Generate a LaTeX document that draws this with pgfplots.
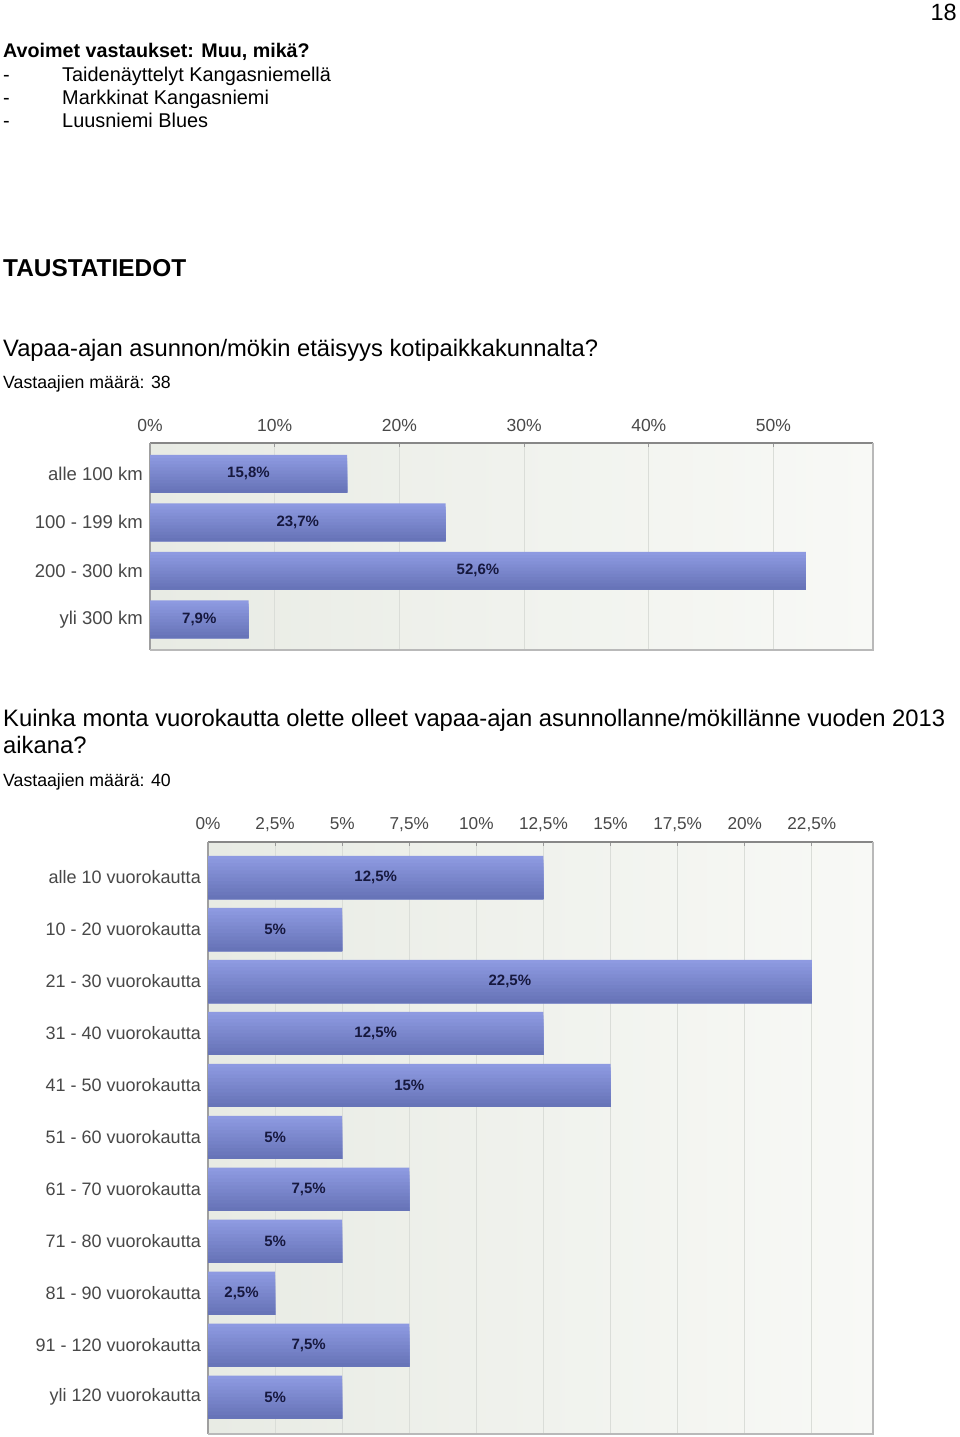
\documentclass[border=0pt]{standalone}
\usepackage{fontspec}
\setmainfont{Liberation Sans}
\usepackage{pgfplots}
\usepackage{pgfplotstable}
\pgfplotsset{compat=1.18}

\definecolor{barhi}{RGB}{142,154,225}
\definecolor{barlo}{RGB}{103,116,184}
\definecolor{bgl}{RGB}{232,235,228}
\definecolor{bgr}{RGB}{248,249,246}
\definecolor{gridc}{RGB}{218,221,216}
\definecolor{lblc}{RGB}{72,72,72}
\definecolor{valc}{RGB}{22,24,62}
\definecolor{topc}{RGB}{135,135,135}
\definecolor{framec}{RGB}{185,185,185}

\newcommand{\fs}[1]{\fontsize{#1pt}{#1pt}\selectfont}

% etaisyys kotipaikkakunnalta, n=38
\pgfplotstableread{
y v
0 15.8
1 23.7
2 52.6
3 7.9
}\etaisyys

% vuorokaudet 2013, n=40
\pgfplotstableread{
y v
0 12.5
1 5
2 22.5
3 12.5
4 15
5 5
6 7.5
7 5
8 2.5
9 7.5
10 5
}\vuorokaudet

\pgfplotsset{
  kysely/.style={
    scale only axis, anchor=north west,
    xmin=0, y dir=reverse,
    axis x line*=top, axis y line*=left,
    x axis line style={draw=topc, line width=2.2pt, -},
    y axis line style={draw=gray!75, line width=1.4pt, -},
    axis background/.style={left color=bgl, right color=bgr},
    xmajorgrids, major grid style={draw=gridc, line width=1pt},
    tick align=inside, major tick length=4pt,
    xtick style={draw=gray!80, line width=1pt},
    ytick style={draw=none},
    ytick={0,...,20},
    xticklabel={\pgfmathprintnumber[use comma]{\tick}\%},
    /pgf/number format/assume math mode=true,
    xticklabel style={inner sep=0pt, text depth=0pt, yshift=11pt, text=lblc},
    yticklabel style={inner sep=0pt, xshift=-7pt, text=lblc},
    after end axis/.code={
      \draw[framec, line width=1.8pt] (axis description cs:1,1) -- (axis description cs:1,0) -- (axis description cs:0,0);
    },
  },
  arvo/.style={draw=none, point meta=explicit,
    nodes near coords={\pgfmathprintnumber[use comma]{\pgfplotspointmeta}\%},
    every node near coord/.append style={anchor=center, font=\fs{15}\bfseries, text=valc}},
}

% palkit kerroksina ylhäältä alas, jotta jokainen palkki saa oman liukuvärinsä
\newcommand{\palkit}[2]{%
  \foreach \i in {0,...,11}{%
    \pgfmathsetmacro\leveys{#2-\i*#2/12}%
    \pgfmathsetmacro\siirto{#2/2-\leveys/2}%
    \pgfmathsetmacro\osuus{100-\i*100/11}%
    \edef\tmp{\noexpand\addplot[xbar, draw=none, bar width=\leveys, bar shift=\siirto, fill=barhi!\osuus!barlo] table[x=v, y=y] {\noexpand#1};}%
    \tmp
  }%
}

\begin{document}
\begin{tikzpicture}
\path[use as bounding box, fill=white] (0pt,0pt) rectangle (960pt,-1437pt);

\node[anchor=base east, inner sep=0pt, font=\fs{23.5}] at (957pt,-21pt) {18};

\node[anchor=base west, inner sep=0pt, font=\fs{19.7}\bfseries] at (3pt,-58pt) {Avoimet vastaukset: Muu, mikä?};
\foreach \rivi/\teksti in {81.7/Taidenäyttelyt Kangasniemellä, 104.7/Markkinat Kangasniemi, 127.7/Luusniemi Blues}{
  \node[anchor=base west, inner sep=0pt, font=\fs{19.9}] at (3pt,-\rivi pt) {-};
  \node[anchor=base west, inner sep=0pt, font=\fs{19.9}] at (62pt,-\rivi pt) {\teksti};
}

\node[anchor=base west, inner sep=0pt, font=\fs{24.4}\bfseries] at (3pt,-276pt) {TAUSTATIEDOT};
\node[anchor=base west, inner sep=0pt, font=\fs{23.75}] at (3pt,-356pt) {Vapaa-ajan asunnon/mökin etäisyys kotipaikkakunnalta?};
\node[anchor=base west, inner sep=0pt, font=\fs{17.7}] at (3pt,-388.5pt) {Vastaajien määrä: 38};

\node[anchor=base west, inner sep=0pt, font=\fs{23.8}] at (3pt,-726.5pt) {Kuinka monta vuorokautta olette olleet vapaa-ajan asunnollanne/mökillänne vuoden 2013};
\node[anchor=base west, inner sep=0pt, font=\fs{23.8}] at (3pt,-753.3pt) {aikana?};
\node[anchor=base west, inner sep=0pt, font=\fs{17.7}] at (3pt,-786.5pt) {Vastaajien määrä: 40};

\begin{axis}[kysely,
  at={(150pt,-442.7pt)}, width=723pt, height=207.3pt,
  xmax=57.98, ymin=-0.641, ymax=3.633,
  xtick={0,10,20,30,40,50},
  yticklabels={alle 100 km, 100 - 199 km, 200 - 300 km, yli 300 km},
  xticklabel style={font=\fs{17.5}},
  yticklabel style={font=\fs{18.5}},
]
\palkit{\etaisyys}{0.78}
\addplot[arvo] table[x expr=\thisrow{v}/2, y=y, meta=v] {\etaisyys};
\end{axis}

\begin{axis}[kysely,
  at={(208pt,-841.7pt)}, width=665pt, height=592.3pt,
  xmax=24.78, ymin=-0.689, ymax=10.71,
  xtick={0,2.5,5,7.5,10,12.5,15,17.5,20,22.5},
  yticklabels={alle 10 vuorokautta, 10 - 20 vuorokautta, 21 - 30 vuorokautta, 31 - 40 vuorokautta, 41 - 50 vuorokautta, 51 - 60 vuorokautta, 61 - 70 vuorokautta, 71 - 80 vuorokautta, 81 - 90 vuorokautta, 91 - 120 vuorokautta, yli 120 vuorokautta},
  xticklabel style={font=\fs{17.2}, yshift=1pt},
  yticklabel style={font=\fs{18}},
]
\palkit{\vuorokaudet}{0.83}
\addplot[arvo] table[x expr=\thisrow{v}/2, y=y, meta=v] {\vuorokaudet};
\end{axis}
\end{tikzpicture}
\end{document}
